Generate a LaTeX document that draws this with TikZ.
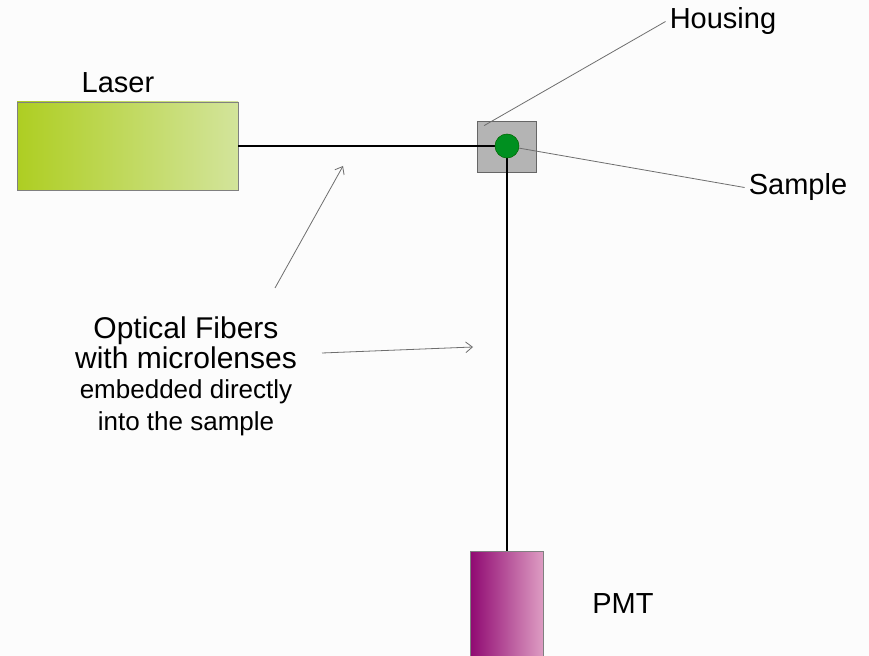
\documentclass[tikz,border=0pt]{standalone}
\usepackage{fontspec}
\setmainfont{Liberation Sans}
\usetikzlibrary{arrows,arrows.meta,positioning,shapes,fit,calc}
\definecolor{laserleft}{RGB}{174,206,34}
\definecolor{laserright}{RGB}{211,228,155}
\definecolor{pmtleft}{RGB}{144,10,114}
\definecolor{pmtright}{RGB}{222,157,195}
\definecolor{housinggray}{RGB}{180,180,180}
\definecolor{samplegreen}{RGB}{0,144,32}
\definecolor{leadgray}{RGB}{110,110,110}
\definecolor{paper}{RGB}{252,252,252}

\begin{document}
\begin{tikzpicture}[x=0.75pt,y=-0.75pt,
    lbl/.style={inner sep=3pt,font=\fontsize{21.75}{26}\selectfont},
    device/.style={draw=gray,line width=0.6pt,shading=axis,shading angle=90},
    fiber/.style={line width=2pt,black},
    leader/.style={line width=0.6pt,leadgray},
    pointer/.style={leader,->,>={Straight Barb[length=5pt,width=8pt]}}]
   \useasboundingbox[fill=paper] (0,0) rectangle (869,656);
   % boxes
   \node[device,left color=laserleft,right color=laserright,
         minimum width=165.75pt,minimum height=66pt] (laser) at (127.5,146) {};
   \node[lbl,anchor=base] (laserlbl) at (118,93) {Laser};
   \node[draw=gray!80!black,fill=housinggray,line width=0.6pt,
         minimum width=44.25pt,minimum height=38.25pt] (housing) at (507,146.5) {};
   \node[device,left color=pmtleft,right color=pmtright,
         minimum width=54.75pt,minimum height=86.25pt] (pmt) at (507,608.5) {};
   \node[lbl,anchor=base] (pmtlbl) at (623,613) {PMT};
   % fibers
   \coordinate (spot) at (507,146);
   \draw[fiber] (laser.east) -- (spot);
   \draw[fiber] (spot) -- (pmt.north);
   \node[circle,draw=green!40!black,fill=samplegreen,line width=0.4pt,
         minimum size=18pt,inner sep=0pt] (sample) at (spot) {};
   % labels
   \node[lbl,anchor=base] (housinglbl) at (723,29) {Housing};
   \node[lbl,anchor=base] (samplelbl) at (798,195) {Sample};
   \coordinate (housingpt) at ($(housing.north west)+(7,5)$);
   \draw[leader] (housingpt) -- (housinglbl.west);
   \draw[leader] (sample) -- (samplelbl.west);
   \node[align=center,inner sep=0pt,anchor=north,
         font=\fontsize{22.5}{22.5}\selectfont] (fibers) at (186,316)
     {Optical Fibers\\
      with microlenses\\
      {\fontsize{19.5}{22.5}\selectfont embedded directly}\\[2pt]
      {\fontsize{19.5}{22.5}\selectfont into the sample}};
   \coordinate (tailA) at (275,288);
   \coordinate (tipA) at (343,166);
   \coordinate (tailB) at (322,353);
   \coordinate (tipB) at (473,347);
   \draw[pointer] (tailA) -- (tipA);
   \draw[pointer] (tailB) -- (tipB);
\end{tikzpicture}
\end{document}
